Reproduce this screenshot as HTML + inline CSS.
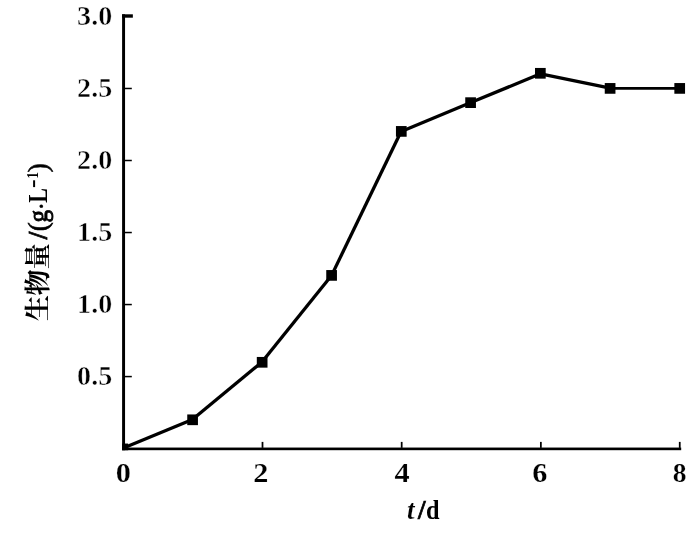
<!DOCTYPE html>
<html><head><meta charset="utf-8"><title>chart</title>
<style>html,body{margin:0;padding:0;background:#fff;}body{width:700px;height:533px;overflow:hidden;font-family:"Liberation Serif",serif;}svg{display:block;filter:grayscale(1);}.t text{font-family:"Liberation Serif",serif;fill:#000;}</style>
</head><body>
<svg width="700" height="533" viewBox="0 0 700 533">
<defs><clipPath id="pc"><rect x="122.1" y="0" width="578" height="450.2"/></clipPath></defs>
<rect x="122.1" y="14.3" width="2.95" height="435.9" fill="#000"/>
<rect x="122.1" y="447.55" width="559.1" height="2.65" fill="#000"/>
<rect x="122.1" y="14.3" width="10.75" height="3.4" fill="#000"/>
<rect x="124" y="375.83" width="7.8" height="1.5" fill="#000"/>
<rect x="124" y="303.80" width="7.8" height="1.5" fill="#000"/>
<rect x="124" y="231.78" width="7.8" height="1.5" fill="#000"/>
<rect x="124" y="159.75" width="7.8" height="1.5" fill="#000"/>
<rect x="124" y="87.73" width="7.8" height="1.5" fill="#000"/>
<rect x="261.63" y="441.9" width="1.75" height="6" fill="#000"/>
<rect x="400.81" y="441.9" width="1.75" height="6" fill="#000"/>
<rect x="539.99" y="441.9" width="1.75" height="6" fill="#000"/>
<rect x="678.87" y="441.9" width="1.75" height="6" fill="#000"/>
<g clip-path="url(#pc)">
<line x1="122.89" y1="448.32" x2="192.48" y2="419.51" stroke="#000" stroke-width="3.3"/>
<line x1="192.40" y1="419.56" x2="261.99" y2="361.94" stroke="#000" stroke-width="3.3"/>
<line x1="261.95" y1="361.98" x2="331.54" y2="275.55" stroke="#000" stroke-width="3.3"/>
<line x1="331.50" y1="275.61" x2="401.09" y2="131.56" stroke="#000" stroke-width="3.3"/>
<line x1="401.25" y1="131.41" x2="470.84" y2="102.60" stroke="#000" stroke-width="3.3"/>
<line x1="470.84" y1="102.60" x2="540.43" y2="73.79" stroke="#000" stroke-width="3.3"/>
<line x1="540.60" y1="73.78" x2="610.19" y2="88.18" stroke="#000" stroke-width="3.3"/>
<line x1="610.13" y1="88.38" x2="679.72" y2="88.38" stroke="#000" stroke-width="2.8"/>
<rect x="117.50" y="443.55" width="10.7" height="10.7" fill="#000"/>
<rect x="187.25" y="414.45" width="10.7" height="10.7" fill="#000"/>
<rect x="256.80" y="356.95" width="10.7" height="10.7" fill="#000"/>
<rect x="326.25" y="270.05" width="10.7" height="10.7" fill="#000"/>
<rect x="395.95" y="126.05" width="10.7" height="10.7" fill="#000"/>
<rect x="465.25" y="97.30" width="10.7" height="10.7" fill="#000"/>
<rect x="535.00" y="67.95" width="10.7" height="10.7" fill="#000"/>
<rect x="604.75" y="83.05" width="10.7" height="10.7" fill="#000"/>
<rect x="674.35" y="83.05" width="10.7" height="10.7" fill="#000"/>
</g>
<g class="t">
<text transform="translate(112.20,385.18) scale(1.04,1)" text-anchor="end" font-size="27" font-weight="bold" stroke="#fff" stroke-width="0.45">0.5</text>
<text transform="translate(112.20,313.15) scale(1.04,1)" text-anchor="end" font-size="27" font-weight="bold" stroke="#fff" stroke-width="0.45">1.0</text>
<text transform="translate(112.20,241.12) scale(1.04,1)" text-anchor="end" font-size="27" font-weight="bold" stroke="#fff" stroke-width="0.45">1.5</text>
<text transform="translate(112.20,169.10) scale(1.04,1)" text-anchor="end" font-size="27" font-weight="bold" stroke="#fff" stroke-width="0.45">2.0</text>
<text transform="translate(112.20,97.08) scale(1.04,1)" text-anchor="end" font-size="27" font-weight="bold" stroke="#fff" stroke-width="0.45">2.5</text>
<text transform="translate(112.20,25.05) scale(1.04,1)" text-anchor="end" font-size="27" font-weight="bold" stroke="#fff" stroke-width="0.45">3.0</text>
<text transform="translate(123.20,481.90) scale(1.1,1)" text-anchor="middle" font-size="27.5" font-weight="bold" stroke="#fff" stroke-width="0.2">0</text>
<text transform="translate(260.88,481.90) scale(1.1,1)" text-anchor="middle" font-size="27.5" font-weight="bold" stroke="#fff" stroke-width="0.2">2</text>
<text transform="translate(401.96,481.90) scale(1.1,1)" text-anchor="middle" font-size="27.5" font-weight="bold" stroke="#fff" stroke-width="0.2">4</text>
<text transform="translate(539.74,481.90) scale(1.1,1)" text-anchor="middle" font-size="27.5" font-weight="bold" stroke="#fff" stroke-width="0.2">6</text>
<text transform="translate(679.72,481.90) scale(1.0,1)" text-anchor="middle" font-size="27.5" font-weight="bold" stroke="#fff" stroke-width="0.2">8</text>
<text transform="translate(406.90,518.90) scale(1.0,1)" text-anchor="start" font-size="27" font-style="italic" font-weight="bold" stroke="#fff" stroke-width="0.15">t</text>
<text transform="translate(418.00,518.90) scale(1.0,1)" text-anchor="start" font-size="27" font-weight="bold" stroke="#000" stroke-width="0.7">/</text>
<text transform="translate(425.90,518.90) scale(0.9,1)" text-anchor="start" font-size="27" font-weight="bold">d</text>
</g>
<g class="t" transform="translate(47.2,321) rotate(-90)" fill="#000"><text x="0 25.6 51.8" y="0" text-anchor="start" font-size="26" font-weight="bold" style="font-family:'Liberation Serif','Noto Serif CJK SC',serif;">生物量</text><text transform="translate(81.80,0.00) scale(1.0,1)" text-anchor="start" font-size="27" font-weight="bold" stroke="#000" stroke-width="0.8">/</text><text transform="translate(89.70,0.00) scale(1.0,1)" text-anchor="start" font-size="27" stroke="#000" stroke-width="0.6">(</text><text transform="translate(98.60,0.00) scale(0.93,1)" text-anchor="start" font-size="27" stroke="#000" stroke-width="0.9">g</text><text transform="translate(110.20,3.30) scale(1.0,1)" text-anchor="start" font-size="27" stroke="#000" stroke-width="0.3">·</text><text transform="translate(118.30,0.00) scale(0.81,1)" text-anchor="start" font-size="27" font-weight="bold">L</text><rect x="133.9" y="-14.1" width="6.8" height="2.0"/><text transform="translate(142.50,-9.10) scale(0.75,1)" text-anchor="start" font-size="17.1" font-weight="bold">1</text><text transform="translate(148.80,0.00) scale(1.0,1)" text-anchor="start" font-size="27" stroke="#000" stroke-width="0.6">)</text></g>
</svg>
</body></html>
